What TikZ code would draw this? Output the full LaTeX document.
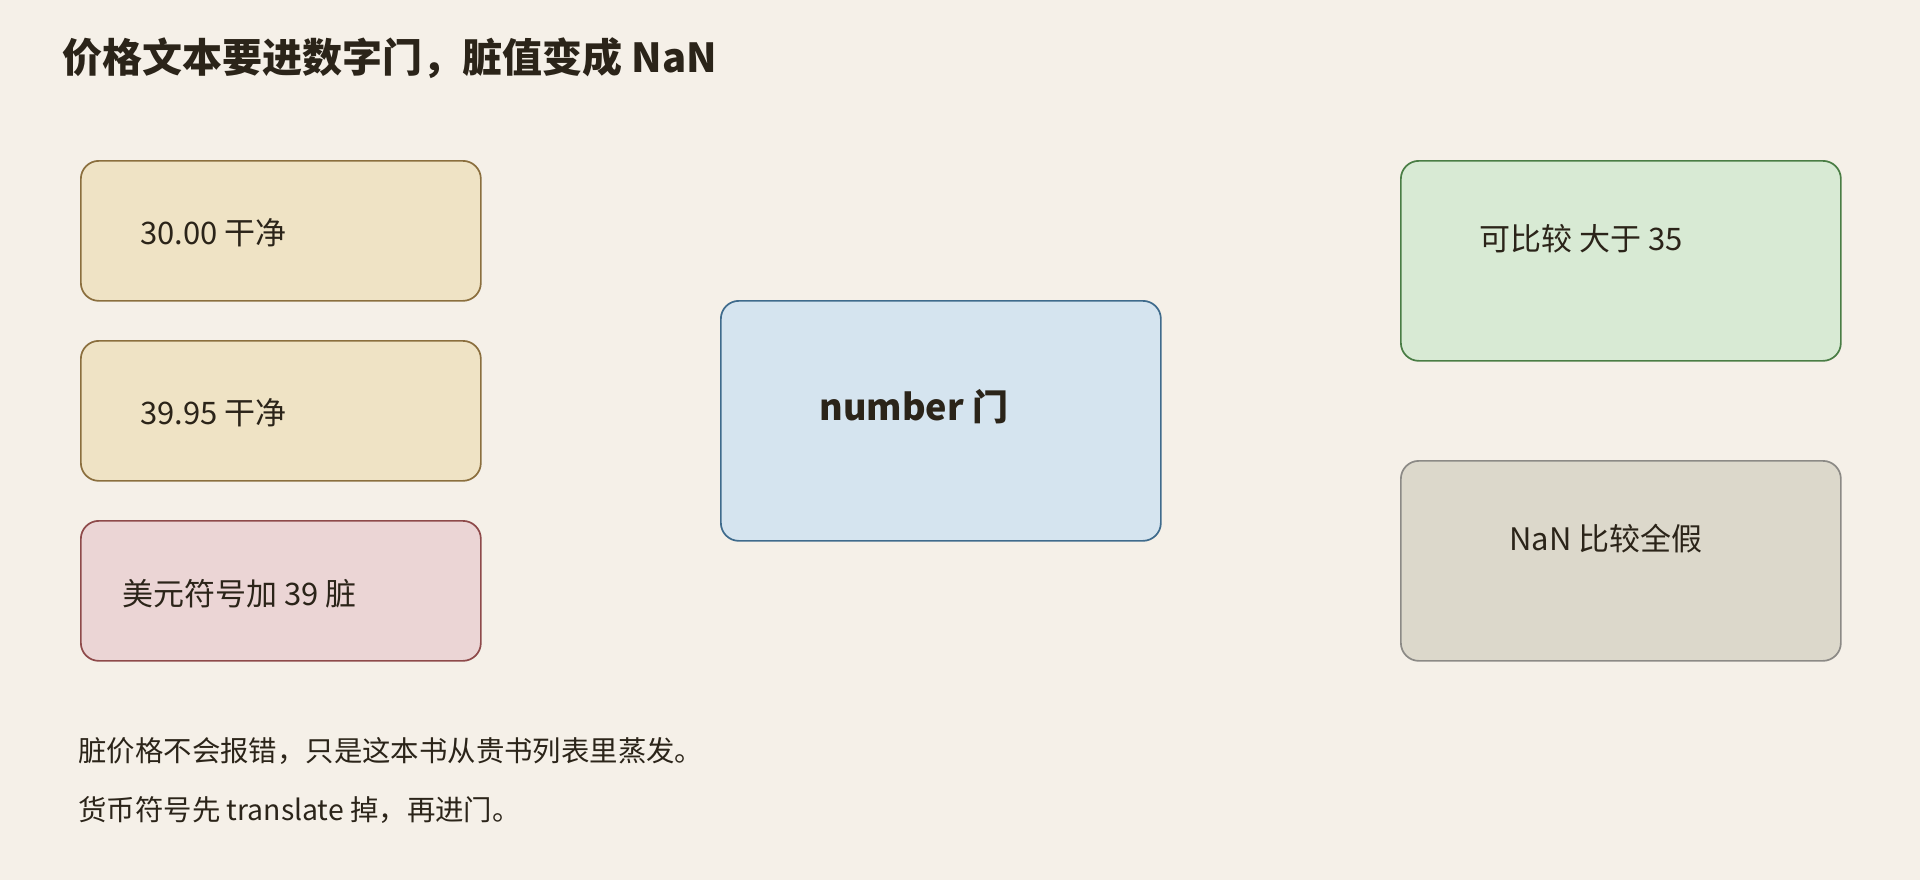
\documentclass[tikz,border=0pt]{standalone}
\usepackage{fontspec}
\setmainfont{Noto Sans CJK SC}
\usetikzlibrary{calc}

\definecolor{bgcol}{HTML}{F5F0E8}
\definecolor{inkcol}{HTML}{2B2419}
\definecolor{cleanfill}{HTML}{EFE3C5}
\definecolor{cleanline}{HTML}{8B6F3E}
\definecolor{dirtyfill}{HTML}{EBD5D5}
\definecolor{dirtyline}{HTML}{8E4A4A}
\definecolor{gatefill}{HTML}{D5E4EF}
\definecolor{gateline}{HTML}{3F6B8C}
\definecolor{okfill}{HTML}{D8EAD4}
\definecolor{okline}{HTML}{4A7D45}
\definecolor{nanfill}{HTML}{DCD8CB}
\definecolor{nanline}{HTML}{8C8A86}

\tikzset{
  box/.style = {draw, line width = 0.85pt, rounded corners = 9pt,
    anchor = north west, inner sep = 0pt},
  inputbox/.style = {box, minimum width = 200pt, minimum height = 70pt},
  outbox/.style = {box, minimum width = 220pt, minimum height = 100pt},
  lbl/.style = {anchor = base west, inner sep = 0pt, text = inkcol,
    font = \fontsize{15.5pt}{18pt}\selectfont},
  note/.style = {anchor = base west, inner sep = 0pt, text = inkcol,
    font = \fontsize{14.2pt}{17pt}\selectfont}
}

\begin{document}
\begin{tikzpicture}[x = 0.5pt, y = -0.5pt]
  \fill[bgcol] (0, 0) rectangle (1920, 880);
  \useasboundingbox (0, 0) rectangle (1920, 880);

  \node[anchor = base west, inner sep = 0pt, text = inkcol,
    font = \fontsize{20pt}{24pt}\selectfont\bfseries] (title) at (62, 72)
  {价格文本要进数字门，脏值变成 NaN};

  % left column: prices
  \node[inputbox, fill = cleanfill, draw = cleanline] (p1) at (80, 160) {};
  \node[inputbox, fill = cleanfill, draw = cleanline] (p2) at (80, 340) {};
  \node[inputbox, fill = dirtyfill, draw = dirtyline] (p3) at (80, 520) {};
  \node[lbl] (p1t) at (140, 244) {30.00 干净};
  \node[lbl] (p2t) at (140, 424) {39.95 干净};
  \node[lbl] (p3t) at (122, 605) {美元符号加 39 脏};

  % gate
  \node[box, fill = gatefill, draw = gateline, minimum width = 220pt,
    minimum height = 120pt] (gate) at (720, 300) {};
  \node[lbl, font = \fontsize{18pt}{22pt}\selectfont\bfseries] (gatet)
  at (819, 420) {number 门};

  % results
  \node[outbox, fill = okfill, draw = okline] (ok) at (1400, 160) {};
  \node[outbox, fill = nanfill, draw = nanline] (nan) at (1400, 460) {};
  \node[lbl] (okt) at (1479, 250) {可比较 大于 35};
  \node[lbl] (nant) at (1509, 550) {NaN 比较全假};

  \node[note] (n1) at (78, 761) {脏价格不会报错，只是这本书从贵书列表里蒸发。};
  \node[note] (n2) at (78, 820) {货币符号先 translate 掉，再进门。};
\end{tikzpicture}
\end{document}
